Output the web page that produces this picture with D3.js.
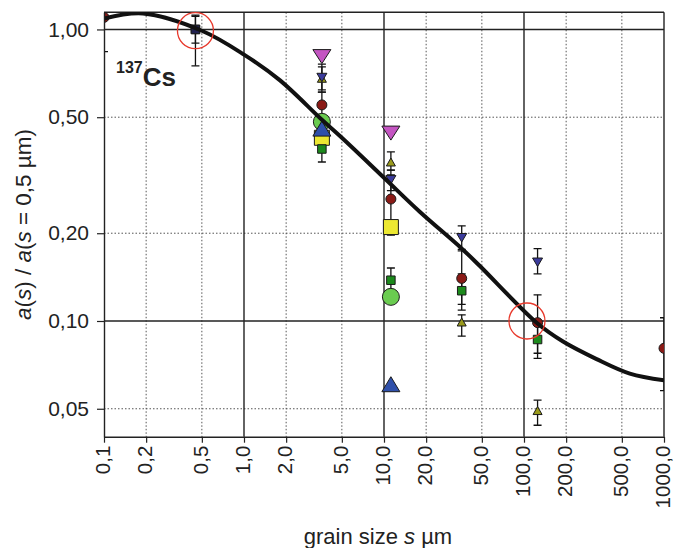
<!DOCTYPE html>
<html>
<head>
<meta charset="utf-8">
<script src="https://cdn.jsdelivr.net/npm/d3@7"></script>
<style>
  html, body { margin: 0; padding: 0; background: #fff; }
  svg { display: block; font-family: "Liberation Sans", Arial, Helvetica, sans-serif; }
</style>
</head>
<body>
<svg id="chart" width="673" height="548"></svg>
<script>
// Grain sizes (µm) at which activity ratios were measured
const grainSizes = [0.1, 0.45, 3.6, 11.2, 35.9, 125, 1000];

// Small markers with uncertainty bars: value, lower and upper bound per grain size
const maroonCircle   = [1.10, null, 0.551, 0.262, 0.140, 0.0987, 0.0806];
const maroonCircleLo = [0.839, null, 0.50, 0.197, 0.114, 0.0775, 0.0577];
const maroonCircleHi = [1.40, null, 0.610, 0.317, 0.174, 0.123, 0.1026];

const navyTriangle   = [null, null, 0.684, 0.305, 0.193, 0.159, null];
const navyTriangleLo = [null, null, 0.620, 0.280, 0.176, 0.145, null];
const navyTriangleHi = [null, null, 0.761, 0.329, 0.212, 0.177, null];

const oliveTriangle   = [null, null, 0.68, 0.351, 0.0992, 0.0493, null];
const oliveTriangleLo = [null, null, 0.610, 0.329, 0.0887, 0.0439, null];
const oliveTriangleHi = [null, null, 0.744, 0.380, 0.105, 0.0535, null];

const greenSquare   = [null, 1.0, 0.389, 0.138, 0.127, 0.0864, null];
const greenSquareLo = [null, 0.897, 0.351, 0.125, 0.109, 0.0744, null];
const greenSquareHi = [null, 1.11, 0.43, 0.152, 0.145, 0.097, null];

const refSquare   = [null, 1.0, null, null, null, null, null];
const refSquareLo = [null, 0.75, null, null, null, null, null];
const refSquareHi = [null, 1.12, null, null, null, null, null];

// Large markers without bars
const yellowSquare   = [null, null, 0.425, 0.210, null, null, null];
const lightCircle    = [null, null, 0.482, 0.121, null, null, null];
const blueTriangle   = [null, null, 0.457, 0.0607, null, null, null];
const magentaTriangle = [null, null, 0.807, 0.441, null, null, null];

// Fitted curve a(s)/a(0.5 µm)
const fitSizes  = [0.1, 0.19, 0.5, 1, 1.8, 3.6, 5, 10, 18, 36, 48, 125, 190, 330, 570, 1000];
const fitValues = [1.09, 1.135, 0.99, 0.82, 0.67, 0.49, 0.425, 0.31, 0.237, 0.177, 0.155, 0.098, 0.085, 0.074, 0.066, 0.0626];

// Highlighted points
const markedSizes  = [0.45, 105];
const markedValues = [0.99, 0.10];

// Axis ticks
const xTickValues = [0.1, 0.2, 0.5, 1, 2, 5, 10, 20, 50, 100, 200, 500, 1000];
const xTickLabels = ["0,1", "0,2", "0,5", "1,0", "2,0", "5,0", "10,0", "20,0", "50,0", "100,0", "200,0", "500,0", "1000,0"];
const yTickValues = [0.05, 0.1, 0.2, 0.5, 1];
const yTickLabels = ["0,05", "0,10", "0,20", "0,50", "1,00"];
const xMajor = [1, 10, 100];
const xMinor = [0.2, 0.5, 2, 5, 20, 50, 200, 500];
const yMajor = [1, 0.1];
const yMinor = [0.5, 0.2, 0.05];

const svg = d3.select("#chart");
const plotLeft = 104, plotRight = 664, plotTop = 12.3, plotBottom = 436.7;

const x = d3.scaleLog().domain([0.1, 1000]).range([plotLeft, plotRight]);
const y = d3.scaleLog().domain([0.0401, 1.145]).range([plotBottom, plotTop]);

svg.append("defs").append("clipPath").attr("id", "plotClip")
  .append("rect").attr("x", plotLeft).attr("y", plotTop)
  .attr("width", plotRight - plotLeft).attr("height", plotBottom - plotTop);

// Grid
const grid = svg.append("g");
grid.selectAll(".vminor").data(xMinor).join("line")
  .attr("x1", d => x(d)).attr("x2", d => x(d)).attr("y1", plotTop).attr("y2", plotBottom)
  .attr("stroke", "#555").attr("stroke-width", 1).attr("stroke-dasharray", "1.5,2");
grid.selectAll(".hminor").data(yMinor).join("line")
  .attr("y1", d => y(d)).attr("y2", d => y(d)).attr("x1", plotLeft).attr("x2", plotRight)
  .attr("stroke", "#555").attr("stroke-width", 1).attr("stroke-dasharray", "1.5,2");
grid.selectAll(".vmajor").data(xMajor).join("line")
  .attr("x1", d => x(d)).attr("x2", d => x(d)).attr("y1", plotTop).attr("y2", plotBottom)
  .attr("stroke", "#222").attr("stroke-width", 1.4);
grid.selectAll(".hmajor").data(yMajor).join("line")
  .attr("y1", d => y(d)).attr("y2", d => y(d)).attr("x1", plotLeft).attr("x2", plotRight)
  .attr("stroke", "#222").attr("stroke-width", 1.4);

// Frame (top and right)
svg.append("line").attr("x1", plotLeft).attr("x2", plotRight).attr("y1", plotTop).attr("y2", plotTop)
  .attr("stroke", "#222").attr("stroke-width", 1.4);
svg.append("line").attr("x1", plotRight).attr("x2", plotRight).attr("y1", plotTop).attr("y2", plotBottom)
  .attr("stroke", "#222").attr("stroke-width", 1.4);

const plot = svg.append("g").attr("clip-path", "url(#plotClip)");

function rows(vals, lo, hi) {
  return grainSizes.map((s, i) => ({ s, v: vals[i], lo: lo ? lo[i] : null, hi: hi ? hi[i] : null }))
    .filter(d => d.v != null);
}

// Uncertainty bars
const barSeries = [
  rows(maroonCircle, maroonCircleLo, maroonCircleHi),
  rows(navyTriangle, navyTriangleLo, navyTriangleHi),
  rows(oliveTriangle, oliveTriangleLo, oliveTriangleHi),
  rows(greenSquare, greenSquareLo, greenSquareHi),
  rows(refSquare, refSquareLo, refSquareHi)
];
const bars = plot.append("g").attr("stroke", "#111").attr("stroke-width", 1.3).attr("fill", "none");
barSeries.forEach(series => {
  series.forEach(d => {
    const cx = x(d.s);
    bars.append("line").attr("x1", cx).attr("x2", cx).attr("y1", y(d.lo)).attr("y2", y(d.hi));
    [d.lo, d.hi].forEach(b => {
      bars.append("line").attr("x1", cx - 4).attr("x2", cx + 4).attr("y1", y(b)).attr("y2", y(b));
    });
  });
});

// Marker shapes centred on their bounding box
const shapes = {
  circle: (w) => { const r = w / 2; return `M${-r},0A${r},${r} 0 1,0 ${r},0A${r},${r} 0 1,0 ${-r},0Z`; },
  square: (w) => `M${-w/2},${-w/2}H${w/2}V${w/2}H${-w/2}Z`,
  up: (w, h) => `M0,${-h/2}L${w/2},${h/2}L${-w/2},${h/2}Z`,
  down: (w, h) => `M0,${h/2}L${w/2},${-h/2}L${-w/2},${-h/2}Z`
};

function drawMarkers(data, shape, w, h, fill) {
  plot.append("g").selectAll("path").data(data).join("path")
    .attr("transform", d => `translate(${x(d.s)},${y(d.v)})`)
    .attr("d", shapes[shape](w, h))
    .attr("fill", fill).attr("stroke", "#1a1a1a").attr("stroke-width", 1);
}

// Large markers
drawMarkers(rows(yellowSquare), "square", 15, 15, "#ece832");
drawMarkers(rows(lightCircle), "circle", 17, 17, "#6acc50");
drawMarkers(rows(blueTriangle), "up", 18, 15, "#2f50aa");
drawMarkers(rows(magentaTriangle), "down", 18, 14, "#c455c2");

// Small markers
drawMarkers(rows(greenSquare), "square", 8.5, 8.5, "#1c8a1c");
drawMarkers(rows(maroonCircle), "circle", 10, 10, "#8a1a16");
drawMarkers(rows(oliveTriangle), "up", 9, 8, "#9a9a1c");
drawMarkers(rows(navyTriangle), "down", 10, 8.5, "#3b3b9c");
drawMarkers(rows(refSquare), "square", 8.5, 8.5, "#20204f");

// Fitted curve
const fit = fitSizes.map((s, i) => ({ s, v: fitValues[i] }));
plot.append("path").datum(fit)
  .attr("d", d3.line().x(d => x(d.s)).y(d => y(d.v)).curve(d3.curveCatmullRom.alpha(0.5)))
  .attr("fill", "none").attr("stroke", "#111").attr("stroke-width", 4).attr("stroke-linecap", "round");

// Highlight rings
svg.append("g").selectAll("circle").data(markedSizes.map((s, i) => ({ s, v: markedValues[i] }))).join("circle")
  .attr("cx", d => x(d.s)).attr("cy", d => y(d.v)).attr("r", 18)
  .attr("fill", "none").attr("stroke", "#e8392c").attr("stroke-width", 1.3);

// Axes
const xAxis = d3.axisBottom(x).tickValues(xTickValues)
  .tickFormat((d, i) => xTickLabels[i]).tickSizeInner(6).tickSizeOuter(0);
const gx = svg.append("g").attr("transform", `translate(0,${plotBottom})`).call(xAxis);
gx.select(".domain").attr("stroke", "#222").attr("stroke-width", 1.4);
gx.selectAll(".tick line").attr("stroke", "#222").attr("stroke-width", 1.2);
gx.selectAll(".tick text")
  .attr("transform", "rotate(-90)").attr("x", -9).attr("y", 0).attr("dy", "0.28em")
  .style("text-anchor", "end").attr("font-size", 20.5).attr("fill", "#222");

const yAxis = d3.axisLeft(y).tickValues(yTickValues)
  .tickFormat((d, i) => yTickLabels[i]).tickSizeInner(7).tickSizeOuter(0).tickPadding(8);
const gy = svg.append("g").attr("transform", `translate(${plotLeft},0)`).call(yAxis);
gy.select(".domain").attr("stroke", "#222").attr("stroke-width", 1.4);
gy.selectAll(".tick line").attr("stroke", "#222").attr("stroke-width", 1.2);
gy.selectAll(".tick text").attr("font-size", 21).attr("fill", "#222");

// Axis titles
const xt = svg.append("text").attr("x", 378).attr("y", 544).attr("text-anchor", "middle")
  .attr("font-size", 22).attr("fill", "#222");
xt.append("tspan").text("grain size ");
xt.append("tspan").attr("font-style", "italic").text("s");
xt.append("tspan").text(" µm");

const yt = svg.append("text").attr("transform", `translate(31,${(plotTop + plotBottom) / 2}) rotate(-90)`)
  .attr("text-anchor", "middle").attr("font-size", 22.5).attr("fill", "#222");
[["a", true], ["(", false], ["s", true], [") / ", false], ["a", true], ["(", false], ["s", true], [" = 0,5 µm)", false]]
  .forEach(([t, it]) => yt.append("tspan").attr("font-style", it ? "italic" : "normal").text(t));

// Nuclide label
const nl = svg.append("text").attr("x", 116).attr("y", 86).attr("font-weight", "bold").attr("fill", "#222");
nl.append("tspan").attr("font-size", 16).attr("dy", -13).text("137");
nl.append("tspan").attr("font-size", 26).attr("dy", 13).text("Cs");
</script>
</body>
</html>
